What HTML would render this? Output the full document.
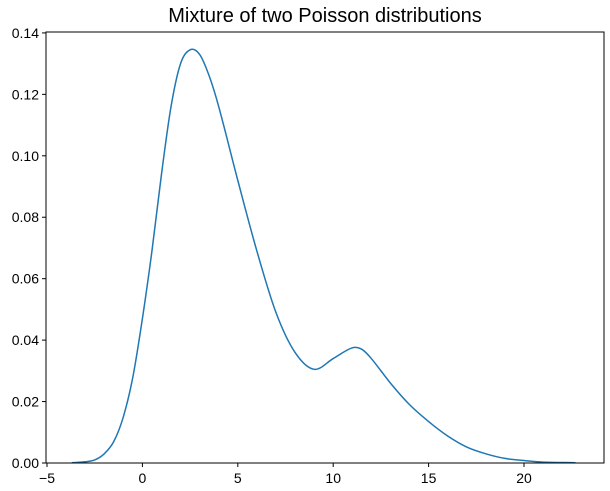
<!DOCTYPE html>
<html><head><meta charset="utf-8"><style>
body{margin:0;background:#fff;}
svg{display:block;font-family:"Liberation Sans","DejaVu Sans",sans-serif;}
</style></head><body>
<svg id="chart" width="610" height="491" viewBox="0 0 610 491" xmlns="http://www.w3.org/2000/svg">
<text x="325" y="22" text-anchor="middle" font-size="20">Mixture of two Poisson distributions</text>
<g id="axes"></g>
<rect x="46" y="32" width="558" height="431" fill="none" stroke="#000" stroke-width="1"/>
</svg>
<script>
const xs = [-3.7,-3,-2.5,-2,-1.5,-1,-0.5,0,0.5,1,1.5,2,2.5,3,3.5,4,5,6,7,8,9,10,11,11.5,12,13,14,15,16,17,18,19,20,21,22.7];
const ys = [0.0001,0.0004,0.001,0.003,0.007,0.015,0.028,0.047,0.069,0.094,0.116,0.130,0.1345,0.133,0.126,0.116,0.092,0.069,0.049,0.036,0.0305,0.034,0.0375,0.037,0.034,0.026,0.019,0.0135,0.0088,0.0052,0.003,0.0015,0.0008,0.0003,0.0001];
const xTicks = [-5,0,5,10,15,20];
const yTicks = [0,0.02,0.04,0.06,0.08,0.10,0.12,0.14];
const yTickLabels = ["0.00","0.02","0.04","0.06","0.08","0.10","0.12","0.14"];
const NS="http://www.w3.org/2000/svg";
const L=46,R=604,T=32,B=463;
const X=v=>47+(v+5)*19.08;
const Y=v=>B-v/0.1403*(B-T);
const g=document.getElementById('axes');
xTicks.forEach(t=>{
 const l=document.createElementNS(NS,'line');
 
 
 l.setAttribute('x1',X(t));l.setAttribute('x2',X(t));l.setAttribute('y1',B);l.setAttribute('y2',B+4);l.setAttribute('stroke','#000');g.appendChild(l);
 const s=document.createElementNS(NS,'text');
 
 
 s.setAttribute('x',X(t));s.setAttribute('y',B+20);s.setAttribute('text-anchor','middle');s.setAttribute('font-size','14');s.textContent=t<0?'\u2212'+(-t):t;g.appendChild(s);
});
yTicks.forEach((t,i)=>{
 const l=document.createElementNS(NS,'line');
 
 
 l.setAttribute('x1',L-4);l.setAttribute('x2',L);l.setAttribute('y1',Y(t));l.setAttribute('y2',Y(t));l.setAttribute('stroke','#000');g.appendChild(l);
 const s=document.createElementNS(NS,'text');
 
 
 s.setAttribute('x',L-7);s.setAttribute('y',Y(t)+5);s.setAttribute('text-anchor','end');s.setAttribute('font-size','14');s.textContent=yTickLabels[i];g.appendChild(s);
});
const P=xs.map((x,i)=>[X(x),Y(ys[i])]);
let d='M'+P[0][0]+','+P[0][1];
for(let i=0;i<P.length-1;i++){
 const p0=P[Math.max(0,i-1)],p1=P[i],p2=P[i+1],p3=P[Math.min(P.length-1,i+2)];
 const h=p2[0]-p1[0];
 const s1=(p2[1]-p0[1])/(p2[0]-p0[0]||1), s2=(p3[1]-p1[1])/(p3[0]-p1[0]||1);
 const c1=[p1[0]+h/3,p1[1]+s1*h/3];
 const c2=[p2[0]-h/3,p2[1]-s2*h/3];
 d+=`C${c1[0]},${c1[1]} ${c2[0]},${c2[1]} ${p2[0]},${p2[1]}`;
}
const path=document.createElementNS(NS,'path');


path.setAttribute('d',d);path.setAttribute('fill','none');path.setAttribute('stroke','#1f77b4');path.setAttribute('stroke-width','1.5');
g.appendChild(path);
</script>
</body></html>
